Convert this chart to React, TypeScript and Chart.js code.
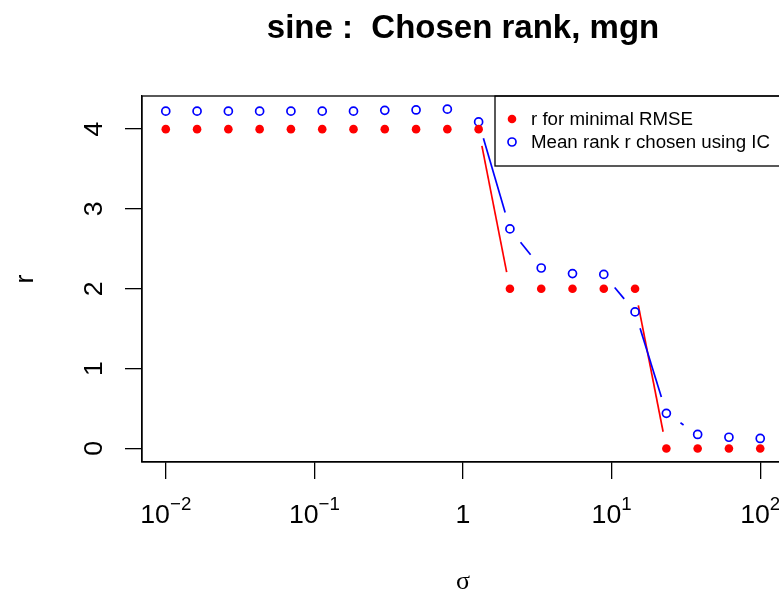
import React, { useEffect, useRef } from "react";
import { Chart, registerables } from "chart.js";

Chart.register(...registerables);

const sigma = [0.01, 0.01624, 0.02637, 0.04281, 0.06952, 0.1129, 0.1833, 0.2976, 0.4833, 0.7848, 1.274, 2.069, 3.36, 5.456, 8.859, 14.38, 23.36, 37.93, 61.58, 100];
const rmseRank = [4, 4, 4, 4, 4, 4, 4, 4, 4, 4, 4, 2, 2, 2, 2, 2, 0, 0, 0, 0];
const icRank = [4.225, 4.225, 4.225, 4.225, 4.225, 4.225, 4.225, 4.235, 4.24, 4.25, 4.09, 2.75, 2.26, 2.19, 2.18, 1.71, 0.44, 0.175, 0.14, 0.125];

const xTicks = [0.01, 0.1, 1, 10, 100];
const xTickBase = ["10", "10", "1", "10", "10"];
const xTickSup = ["\u22122", "\u22121", "", "1", "2"];
const yTicks = [0, 1, 2, 3, 4];
const yTickLabels = ["0", "1", "2", "3", "4"];

const titleText = "sine :  Chosen rank, mgn";
const xTitle = "\u03c3";
const yTitle = "r";
const legendLabels = ["r for minimal RMSE", "Mean rank r chosen using IC"];
const seriesColors = ["#ff0000", "#0000ff"];

const SANS = "'Liberation Sans', Arial, Helvetica, sans-serif";

const gapLines = {
  id: "gapLines",
  beforeDatasetsDraw(chart: any) {
    const ctx = chart.ctx;
    const gap = 17;
    ctx.save();
    ctx.lineWidth = 1.7;
    chart.data.datasets.forEach((ds: any, i: number) => {
      const meta = chart.getDatasetMeta(i);
      ctx.strokeStyle = ds.borderColor;
      for (let k = 0; k < meta.data.length - 1; k++) {
        const a = meta.data[k];
        const b = meta.data[k + 1];
        const dx = b.x - a.x;
        const dy = b.y - a.y;
        const d = Math.sqrt(dx * dx + dy * dy);
        if (d <= 2 * gap) continue;
        const ux = dx / d;
        const uy = dy / d;
        ctx.beginPath();
        ctx.moveTo(a.x + ux * gap, a.y + uy * gap);
        ctx.lineTo(b.x - ux * gap, b.y - uy * gap);
        ctx.stroke();
      }
    });
    ctx.restore();
  },
};

const decorations = {
  id: "decorations",
  afterDraw(chart: any) {
    const ctx = chart.ctx;
    const area = chart.chartArea;
    const xs = chart.scales.x;
    const ys = chart.scales.y;
    ctx.save();
    ctx.fillStyle = "#000";
    ctx.strokeStyle = "#000";
    ctx.lineWidth = 1.3;
    ctx.strokeRect(area.left, area.top, area.right - area.left, area.bottom - area.top);

    // x tick labels
    const baseFont = `26.7px ${SANS}`;
    const supFont = `18.7px ${SANS}`;
    ctx.textBaseline = "alphabetic";
    ctx.textAlign = "left";
    xTicks.forEach((v, i) => {
      const px = xs.getPixelForValue(v);
      ctx.font = baseFont;
      const wb = ctx.measureText(xTickBase[i]).width;
      ctx.font = supFont;
      const wsup = xTickSup[i] ? ctx.measureText(xTickSup[i]).width : 0;
      const start = px - (wb + wsup) / 2;
      ctx.font = baseFont;
      ctx.fillText(xTickBase[i], start, area.bottom + 61);
      if (xTickSup[i]) {
        ctx.font = supFont;
        ctx.fillText(xTickSup[i], start + wb, area.bottom + 48);
      }
    });

    // y tick labels (rotated)
    ctx.font = baseFont;
    ctx.textAlign = "center";
    yTicks.forEach((v, i) => {
      const py = ys.getPixelForValue(v);
      ctx.save();
      ctx.translate(area.left - 40, py);
      ctx.rotate(-Math.PI / 2);
      ctx.fillText(yTickLabels[i], 0, 0);
      ctx.restore();
    });

    // axis titles
    ctx.save();
    ctx.translate(area.left - 109, (area.top + area.bottom) / 2);
    ctx.rotate(-Math.PI / 2);
    ctx.font = baseFont;
    ctx.fillText(yTitle, 0, 0);
    ctx.restore();

    ctx.font = `26px 'Liberation Serif', 'DejaVu Serif', serif`;
    ctx.textAlign = "center";
    ctx.fillText(xTitle, (area.left + area.right) / 2, area.bottom + 127);

    // title
    ctx.font = `bold 33px ${SANS}`;
    ctx.fillText(titleText, (area.left + area.right) / 2, 38);

    // legend
    const lgRight = area.right;
    const lgLeft = lgRight - 289;
    const lgTop = area.top;
    const lgBottom = lgTop + 70;
    ctx.lineWidth = 1.3;
    ctx.strokeRect(lgLeft, lgTop, lgRight - lgLeft, lgBottom - lgTop);
    ctx.font = `18.7px ${SANS}`;
    ctx.textAlign = "left";
    ctx.textBaseline = "middle";
    legendLabels.forEach((lab, i) => {
      const cy = lgTop + 23 + i * 23;
      const cx = lgLeft + 17;
      ctx.beginPath();
      ctx.arc(cx, cy, i === 0 ? 4.3 : 4, 0, Math.PI * 2);
      if (i === 0) {
        ctx.fillStyle = seriesColors[0];
        ctx.fill();
      } else {
        ctx.strokeStyle = seriesColors[1];
        ctx.lineWidth = 1.7;
        ctx.stroke();
      }
      ctx.fillStyle = "#000";
      ctx.fillText(lab, lgLeft + 36, cy + 1);
    });
    ctx.restore();
  },
};

export default function App() {
  const ref = useRef<HTMLCanvasElement | null>(null);
  useEffect(() => {
    if (!ref.current) return;
    const chart = new Chart(ref.current, {
      type: "scatter",
      data: {
        datasets: [
          {
            label: legendLabels[0],
            data: sigma.map((s, i) => ({ x: s, y: rmseRank[i] })),
            showLine: false,
            borderColor: seriesColors[0],
            backgroundColor: seriesColors[0],
            pointRadius: 4.3,
            pointBorderWidth: 0,
          },
          {
            label: legendLabels[1],
            data: sigma.map((s, i) => ({ x: s, y: icRank[i] })),
            showLine: false,
            borderColor: seriesColors[1],
            backgroundColor: "rgba(0,0,0,0)",
            pointRadius: 4,
            pointBorderWidth: 1.7,
          },
        ],
      },
      options: {
        animation: false,
        responsive: false,
        devicePixelRatio: 1,
        layout: { padding: { top: 96, right: 16, left: 0, bottom: 0 } },
        plugins: { legend: { display: false }, tooltip: { enabled: false }, title: { display: false } },
        scales: {
          x: {
            type: "logarithmic",
            min: Math.pow(10, -2.16),
            max: Math.pow(10, 2.16),
            afterBuildTicks: (s: any) => {
              s.ticks = xTicks.map((v) => ({ value: v }));
            },
            afterFit: (s: any) => {
              s.height = 132;
            },
            ticks: { display: false },
            grid: { drawOnChartArea: false, drawTicks: true, tickLength: 17, color: "#000", lineWidth: 1.3 },
            border: { display: true, color: "#000", width: 1.3 },
          },
          y: {
            type: "linear",
            min: -0.17,
            max: 4.415,
            afterBuildTicks: (s: any) => {
              s.ticks = yTicks.map((v) => ({ value: v }));
            },
            afterFit: (s: any) => {
              s.width = 142;
            },
            ticks: { display: false },
            grid: { drawOnChartArea: false, drawTicks: true, tickLength: 17, color: "#000", lineWidth: 1.3 },
            border: { display: true, color: "#000", width: 1.3 },
          },
        },
      },
      plugins: [gapLines, decorations],
    });
    return () => chart.destroy();
  }, []);
  return (
    <div style={{ position: "fixed", left: 0, top: 0, width: 800, height: 594, background: "#fff" }}>
      <canvas ref={ref} width={800} height={594} style={{ display: "block" }} />
    </div>
  );
}
